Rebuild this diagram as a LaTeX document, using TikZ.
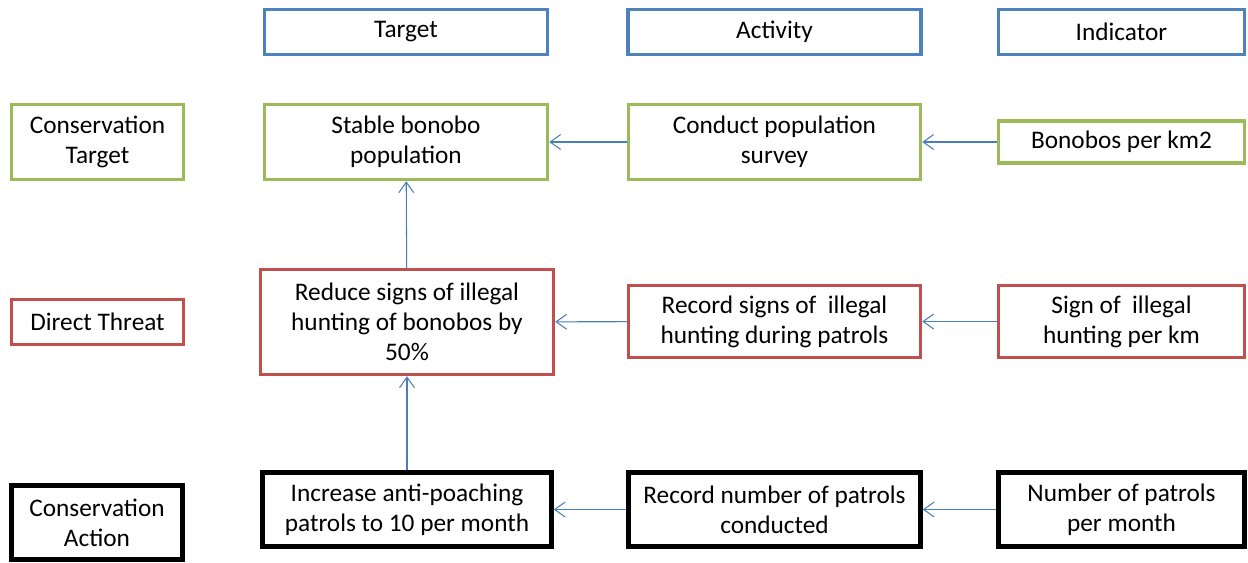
\documentclass[tikz,border=0pt]{standalone}
\usepackage{fontspec}
\setmainfont{Carlito}
\usepackage{tikz}
\usetikzlibrary{arrows.meta,positioning}
\definecolor{hdrblue}  {HTML}{4F81BD}
\definecolor{tgtgreen} {HTML}{9BBB59}
\definecolor{thrred}   {HTML}{C0504D}
\definecolor{arrblue}  {HTML}{4A7EBB}
\tikzset{
  box/.style={rectangle,fill=white,align=center,inner sep=2pt,
              font=\fontsize{14.4pt}{17pt}\selectfont},
  hdrbox/.style={box,draw=hdrblue,line width=0.07cm},
  tgtbox/.style={box,draw=tgtgreen,line width=0.07cm},
  thrbox/.style={box,draw=thrred,line width=0.07cm},
  actbox/.style={box,draw=black,line width=0.09cm},
  link/.style={draw=arrblue,line width=0.6pt,
               -{Straight Barb[length=6pt,width=8.5pt]}}
}

\begin{document}
\begin{tikzpicture}[x=0.02cm,y=-0.02cm]
  \useasboundingbox (0,0) rectangle (1248,562);

  % column headers
  \node[hdrbox,minimum width=5.66cm,minimum height=0.9cm] (hTarget)    at (406,32)    {Target};
  \node[hdrbox,minimum width=5.86cm,minimum height=0.9cm] (hActivity)  at (774.5,32)  {Activity};
  \node[hdrbox,minimum width=4.92cm,minimum height=0.9cm] (hIndicator) at (1121.5,32) {Indicator};

  % conservation target row
  \node[tgtbox,minimum width=3.44cm,minimum height=1.5cm]  (lTarget) at (97.5,142)   {Conservation\\Target};
  \node[tgtbox,minimum width=5.66cm,minimum height=1.5cm]  (target)  at (406,142)    {Stable bonobo\\population};
  \node[tgtbox,minimum width=5.84cm,minimum height=1.5cm]  (survey)  at (774.5,142)  {Conduct population\\survey};
  \node[tgtbox,minimum width=4.92cm,minimum height=0.84cm] (density) at (1121.5,142) {Bonobos per km2};

  % direct threat row
  \node[thrbox,minimum width=3.44cm,minimum height=0.9cm]  (lThreat) at (97.5,322)   {Direct Threat};
  \node[thrbox,minimum width=5.86cm,minimum height=2.1cm]  (threat)  at (407,322)    {Reduce signs of illegal\\hunting of bonobos by\\50\%};
  \node[thrbox,minimum width=5.84cm,minimum height=1.44cm] (record)  at (774.5,321.5) {Record signs of\ \ illegal\\hunting during patrols};
  \node[thrbox,minimum width=4.92cm,minimum height=1.44cm] (signs)   at (1121.5,321.5) {Sign of\ \ illegal\\hunting per km};

  % conservation action row
  \node[actbox,minimum width=3.42cm,minimum height=1.48cm] (lAction)  at (97,522.5)    {Conservation\\Action};
  \node[actbox,minimum width=5.78cm,minimum height=1.48cm] (action)   at (407,509.5)   {Increase anti-poaching\\patrols to 10 per month};
  \node[actbox,minimum width=5.84cm,minimum height=1.48cm] (patrols)  at (774.5,509.5) {Record number of patrols\\conducted};
  \node[actbox,minimum width=4.92cm,minimum height=1.48cm] (perMonth) at (1121.5,509.5) {Number of patrols\\per month};

  % links
  \draw[link] (survey) -- (target);
  \draw[link] (density) -- (survey);
  \draw[link] (record) -- (threat);
  \draw[link] (signs) -- (record);
  \draw[link] (patrols) -- (action);
  \draw[link] (perMonth) -- (patrols);
  \draw[link] (threat) -- (target);
  \draw[link] (action) -- (threat);
\end{tikzpicture}
\end{document}
